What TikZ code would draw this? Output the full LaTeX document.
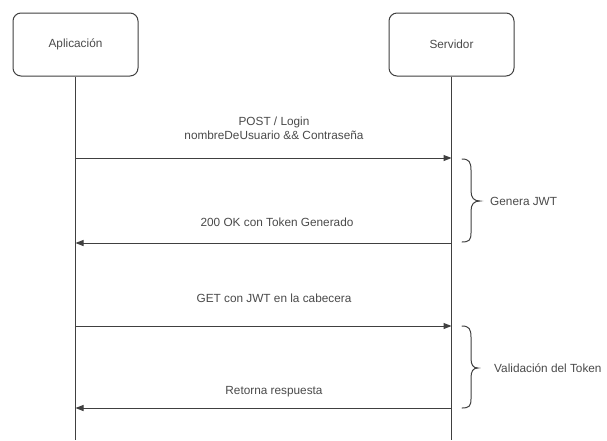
\documentclass[tikz,border=0pt]{standalone}
\usepackage{fontspec}
\setmainfont{Liberation Sans}
\usetikzlibrary{arrows.meta}
\definecolor{ln}{HTML}{404040}
\definecolor{tx}{HTML}{4A4A4A}
\begin{document}
\begin{tikzpicture}[x=1pt,y=-1pt,
  actor/.style={draw=ln,line width=1pt,rounded corners=8pt,minimum width=125pt,minimum height=63pt,text=tx,font=\fontsize{11.8}{14}\selectfont},
  life/.style={draw=ln,line width=1pt},
  msg/.style={draw=ln,line width=1pt,-{Triangle[length=8pt,width=6pt]}},
  lbl/.style={text=tx,font=\fontsize{11.8}{14.5}\selectfont,align=center,inner sep=0pt},
  brc/.style={draw=ln,line width=1pt,line cap=round}]
\useasboundingbox (0,0) rectangle (607,440);
\fill[white] (0,0) rectangle (607,440);
% actors
\node[actor] (app) at (75.5,44.5) {Aplicación};
\node[actor] (srv) at (451.5,44.5) {Servidor};
\coordinate (appEnd) at (app.south |- 0,440);
\coordinate (srvEnd) at (srv.south |- 0,440);
\draw[life] (app.south) -- (appEnd);
\draw[life] (srv.south) -- (srvEnd);
% anchor points on lifelines
\foreach \n/\y in {1/158,2/243,3/326,4/408}{
  \coordinate (a\n) at (app.south |- 0,\y);
  \coordinate (s\n) at (srv.south |- 0,\y);
}
% messages
\draw[msg] (a1) -- (s1);
\draw[msg] (s2) -- (a2);
\draw[msg] (a3) -- (s3);
\draw[msg] (s4) -- (a4);
% labels
\node[lbl] (l1) at (274,128.5) {POST / Login\\nombreDeUsuario \&\& Contraseña};
\node[lbl] (l2) at (277,222) {200 OK con Token Generado};
\node[lbl] (l3) at (274,298) {GET con JWT en la cabecera};
\node[lbl] (l4) at (274,392) {Retorna respuesta};
% braces
\draw[brc] (462,159) .. controls (469,159) and (471,162) .. (471,170)
  -- (471,191) .. controls (471,198) and (474,201) .. (480,201)
  .. controls (474,201) and (471,204) .. (471,211)
  -- (471,233) .. controls (471,240) and (469,242) .. (462,242);
\draw[brc] (462,326) .. controls (469,326) and (471,329) .. (471,337)
  -- (471,358) .. controls (471,365) and (473,368) .. (478,368)
  .. controls (473,368) and (471,371) .. (471,378)
  -- (471,399) .. controls (471,406) and (469,408) .. (462,408);
\node[lbl,anchor=west] (g1) at (490,201) {Genera JWT};
\node[lbl,anchor=west] (g2) at (494,368) {Validación del Token};
\end{tikzpicture}
\end{document}
